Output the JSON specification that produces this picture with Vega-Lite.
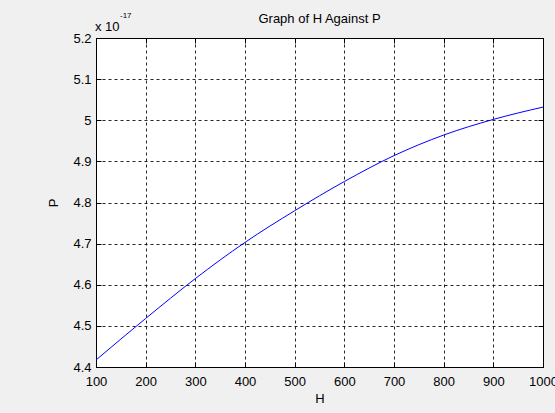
{
  "$schema": "https://vega.github.io/schema/vega-lite/v6.json",
  "width": 447,
  "height": 329,
  "autosize": {"type": "none"},
  "padding": {"left": 96, "top": 38, "right": 12, "bottom": 46},
  "background": "#f0f0f0",
  "title": {"text": "Graph of H Against P", "font": "Liberation Sans", "fontSize": 13, "fontWeight": "normal", "color": "#000000", "offset": 9, "dy": 23},
  "config": {
    "view": {"fill": "#ffffff", "stroke": "#000000", "strokeWidth": 1},
    "axis": {
      "labelFont": "Liberation Sans", "labelFontSize": 13, "labelColor": "#000000",
      "titleFont": "Liberation Sans", "titleFontSize": 13, "titleFontWeight": "normal", "titleColor": "#000000",
      "domainColor": "#000000", "tickColor": "#000000", "gridColor": "#000000", "gridOpacity": 0.85,
      "gridDash": [3, 3], "gridWidth": 1, "tickSize": -5, "domainWidth": 1
    }
  },
  "datasets": {
    "curve": [
      {"H": 100, "P": 4.417e-17},
      {"H": 200, "P": 4.518e-17},
      {"H": 300, "P": 4.615e-17},
      {"H": 400, "P": 4.703e-17},
      {"H": 500, "P": 4.780e-17},
      {"H": 600, "P": 4.851e-17},
      {"H": 700, "P": 4.914e-17},
      {"H": 800, "P": 4.964e-17},
      {"H": 900, "P": 5.002e-17},
      {"H": 1000, "P": 5.032e-17}
    ],
    "exp": [{"base": "x 10", "power": "-17"}]
  },
  "layer": [
    {
      "data": {"name": "curve"},
      "mark": {"type": "line", "color": "#0000ff", "strokeWidth": 1, "interpolate": "monotone"},
      "encoding": {
        "x": {"field": "H", "type": "quantitative", "scale": {"domain": [100, 1000], "nice": false, "zero": false},
              "axis": {"orient": "bottom", "values": [100, 200, 300, 400, 500, 600, 700, 800, 900, 1000], "format": "d", "grid": true, "title": "H", "labelPadding": 13, "titlePadding": 4, "labelFlush": false}},
        "y": {"field": "P", "type": "quantitative", "scale": {"domain": [4.4e-17, 5.2e-17], "nice": false, "zero": false},
              "axis": {"orient": "left", "values": [4.4e-17, 4.5e-17, 4.6e-17, 4.7e-17, 4.8e-17, 4.9e-17, 5.0e-17, 5.1e-17, 5.2e-17], "grid": true, "title": "P", "labelExpr": "format(datum.value*1e17, '.2~r')", "labelPadding": 10, "titlePadding": 12, "labelFlush": false}}
      }
    },
    {
      "data": {"name": "curve"},
      "mark": {"type": "line", "strokeOpacity": 0},
      "encoding": {
        "x": {"field": "H", "type": "quantitative", "scale": {"domain": [100, 1000], "nice": false, "zero": false},
              "axis": {"orient": "top", "values": [100, 200, 300, 400, 500, 600, 700, 800, 900, 1000], "grid": false, "labels": false, "title": null}},
        "y": {"field": "P", "type": "quantitative", "scale": {"domain": [4.4e-17, 5.2e-17], "nice": false, "zero": false},
              "axis": {"orient": "right", "values": [4.4e-17, 4.5e-17, 4.6e-17, 4.7e-17, 4.8e-17, 4.9e-17, 5.0e-17, 5.1e-17, 5.2e-17], "grid": false, "labels": false, "title": null}}
      }
    },
    {
      "data": {"name": "exp"},
      "mark": {"type": "text", "font": "Liberation Sans", "fontSize": 13, "color": "#000000", "align": "left", "baseline": "alphabetic", "dy": -7, "dx": -1},
      "encoding": {
        "x": {"datum": 100, "type": "quantitative", "axis": null},
        "y": {"datum": 5.2e-17, "type": "quantitative", "axis": null},
        "text": {"field": "base"}
      }
    },
    {
      "data": {"name": "exp"},
      "mark": {"type": "text", "font": "Liberation Sans", "fontSize": 8, "color": "#000000", "align": "left", "baseline": "alphabetic", "dy": -20, "dx": 24},
      "encoding": {
        "x": {"datum": 100, "type": "quantitative", "axis": null},
        "y": {"datum": 5.2e-17, "type": "quantitative", "axis": null},
        "text": {"field": "power"}
      }
    }
  ]
}
